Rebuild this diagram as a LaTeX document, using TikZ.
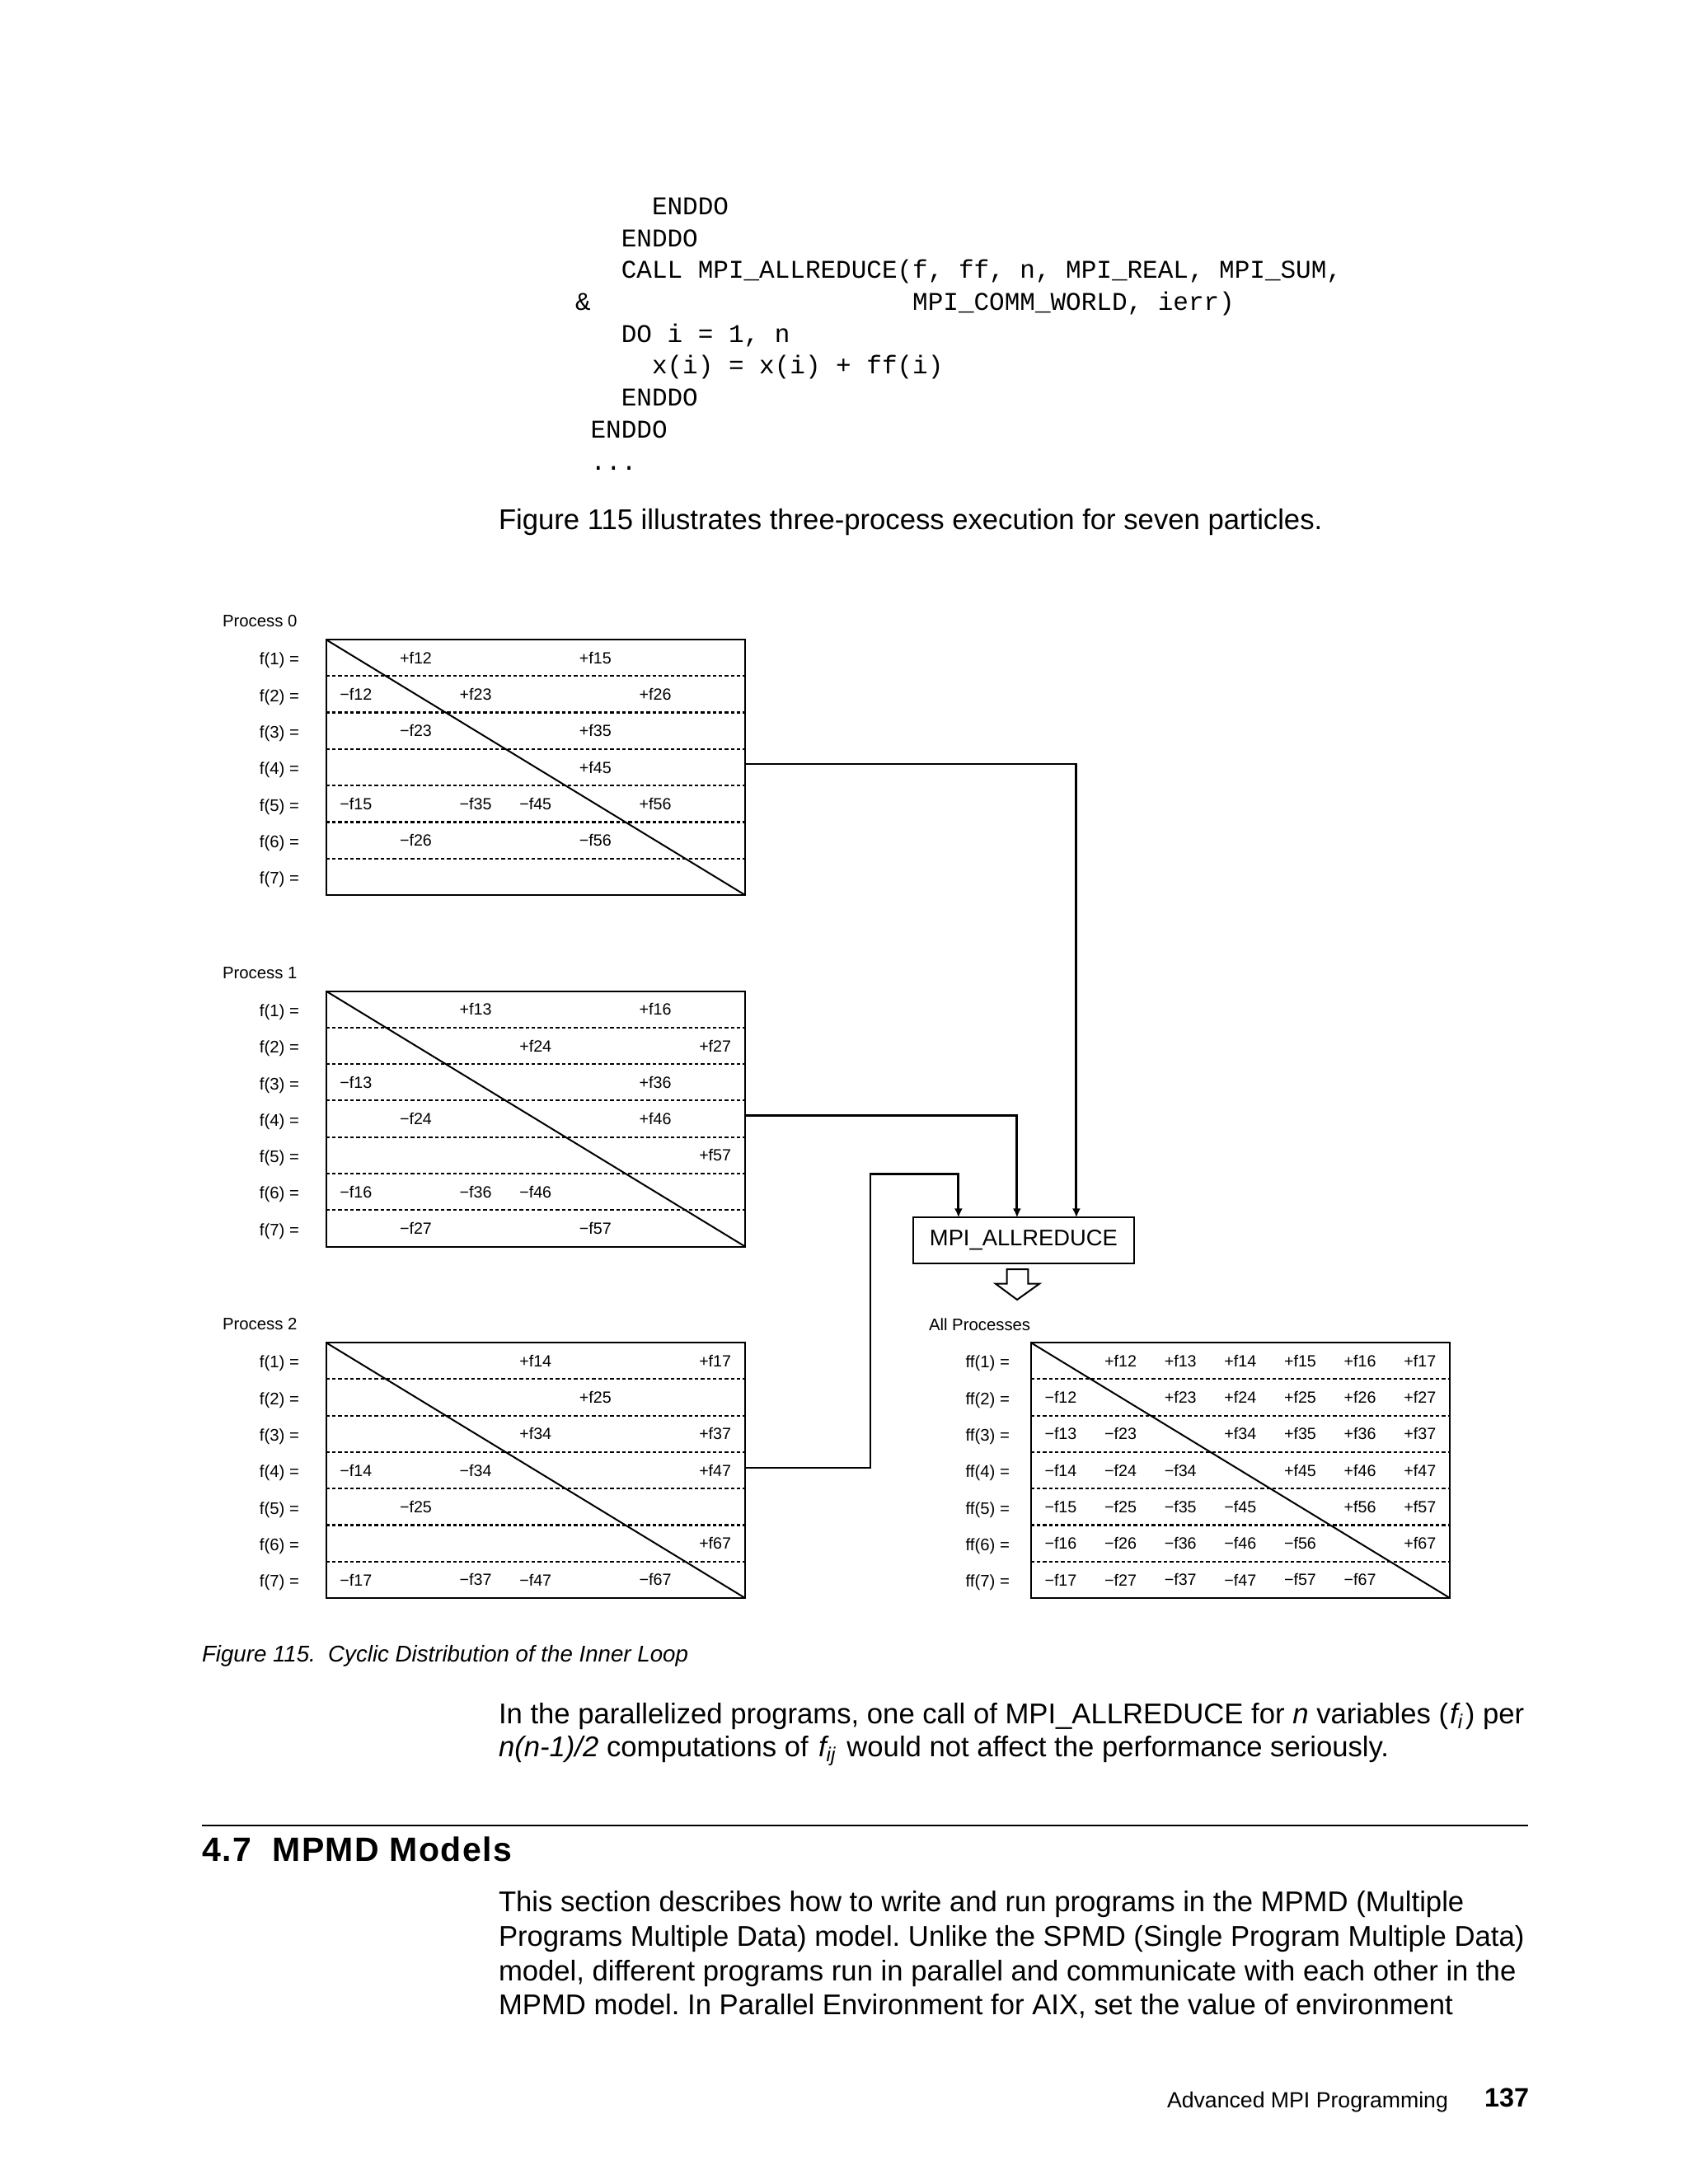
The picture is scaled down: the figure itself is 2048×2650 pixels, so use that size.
\documentclass[tikz,border=0pt]{standalone}
\usepackage{fontspec}
\setmainfont{Liberation Sans}
\setmonofont{Liberation Mono}
\newfontfamily\headfont[LetterSpace=3.5]{Liberation Sans}
\usetikzlibrary{arrows.meta,positioning,calc}

\begin{document}
\frenchspacing
\begin{tikzpicture}[x=0.3pt,y=-0.3pt,
    every node/.style={inner sep=0pt,outer sep=0pt},
    code/.style={anchor=mid west,yshift=-0.5pt,font=\fontsize{9.3}{11}\ttfamily},
    body/.style={anchor=mid west,yshift=-1pt,font=\fontsize{10.4}{12.5}\selectfont},
    lbl/.style={font=\fontsize{6.1}{7}\selectfont},
    entry/.style={font=\fontsize{5.9}{7}\selectfont},
    fbox/.style={draw,line width=0.6pt,minimum width=152.55pt,minimum height=93pt,anchor=north west},
    rowsep/.style={line width=0.65pt,dash pattern=on 1.3pt off 0.9pt},
    link/.style={line width=0.85pt,-{Latex[length=3.3pt,width=3pt]}}]
  \fill[white] (0,0) rectangle (2048,2650);
  \useasboundingbox (0,0) rectangle (2048,2650);

  \node[code] (code1) at (791,250) {ENDDO};
  \node[code] (code2) at (753.8,288.7) {ENDDO};
  \node[code] (code3) at (753.8,327.4) {CALL MPI\_ALLREDUCE(f, ff, n, MPI\_REAL, MPI\_SUM,};
  \node[code] (code4) at (698,366.1) {\&};
  \node[code] (code4b) at (1107.2,366.1) {MPI\_COMM\_WORLD, ierr)};
  \node[code] (code5) at (753.8,404.8) {DO i = 1, n};
  \node[code] (code6) at (791,443.5) {x(i) = x(i) + ff(i)};
  \node[code] (code7) at (753.8,482.2) {ENDDO};
  \node[code] (code8) at (716.6,520.9) {ENDDO};
  \node[code] (code9) at (716.6,559.6) {...};

  \node[body] (intro) at (605,630) {Figure 115 illustrates three-process execution for seven particles.};

  \foreach \p/\ytop/\pairs in {0/776/{1/2,1/5,2/3,2/6,3/5,4/5,5/6},
                               1/1202.5/{1/3,1/6,2/4,2/7,3/6,4/6,5/7},
                               2/1629/{1/4,1/7,2/5,3/4,3/7,4/7,6/7}} {
    \node[lbl,anchor=mid west] (title\p) at (270,{\ytop-24}) {Process \p};
    \node[fbox] (p\p) at (395.5,\ytop) {};
    \foreach \r in {1,...,6}
      \draw[rowsep] ($(p\p.north west)!\r/7!(p\p.south west)$) -- ($(p\p.north east)!\r/7!(p\p.south east)$);
    \draw[line width=0.6pt] (p\p.north west) -- (p\p.south east);
    \foreach \r in {1,...,7}
      \node[lbl,anchor=mid east] (f\p-\r) at (363,{\ytop+(\r-0.5)*44.29}) {f(\r) =};
    \foreach \i/\j in \pairs {
      \node[entry] (a\p-\i\j) at ({395.5+(\j-0.5)*72.64},{\ytop+(\i-0.5)*44.29}) {+f\i\j};
      \node[entry] (b\p-\i\j) at ({395.5+(\i-0.5)*72.64},{\ytop+(\j-0.5)*44.29}) {−f\i\j};
    }
  }

  \node[lbl,anchor=mid west] (alltitle) at (1127,1606) {All Processes};
  \node[fbox] (ff) at (1250.6,1629) {};
  \foreach \r in {1,...,6}
    \draw[rowsep] ($(ff.north west)!\r/7!(ff.south west)$) -- ($(ff.north east)!\r/7!(ff.south east)$);
  \draw[line width=0.6pt] (ff.north west) -- (ff.south east);
  \foreach \r in {1,...,7}
    \node[lbl,anchor=mid east] (g-\r) at (1225,{1629+(\r-0.5)*44.29}) {ff(\r) =};
  \foreach \i in {1,...,7}
    \foreach \j in {1,...,7} {
      \ifnum\i<\j
        \node[entry] (ga-\i\j) at ({1250.6+(\j-0.5)*72.64},{1629+(\i-0.5)*44.29}) {+f\i\j};
        \node[entry] (gb-\i\j) at ({1250.6+(\i-0.5)*72.64},{1629+(\j-0.5)*44.29}) {−f\i\j};
      \fi
    }

  \node[draw,line width=0.6pt,minimum width=80.5pt,minimum height=16.6pt,font=\fontsize{8.2}{10}\selectfont] (mpi) at (1241.9,1505) {MPI\_ALLREDUCE};
  \coordinate (in0) at ($(mpi.north)+(64,0)$);
  \coordinate (in1) at ($(mpi.north)+(-8,0)$);
  \coordinate (in2) at ($(mpi.north)+(-79,0)$);
  \coordinate (out0) at ($(p0.north east)+(0,151)$);
  \coordinate (out1) at ($(p1.north east)+(0,151)$);
  \coordinate (out2) at ($(p2.north east)+(0,152)$);
  \coordinate (bend2) at (1056,1424.7);
  \draw[link] (out0) -| (in0);
  \draw[link] (out1) -| (in1);
  \draw[link] (out2) -| (bend2) -| (in2);
  \draw[line width=0.6pt] (1221.7,1540) -- (1247.3,1540) -- (1247.3,1557.5) -- (1261.3,1557.5)
    -- (1234,1577) -- (1207.7,1557.5) -- (1221.7,1557.5) -- cycle;

  \node[anchor=mid west,yshift=-0.5pt,font=\fontsize{8.3}{10}\itshape] (cap) at (245,2006) {Figure 115.\ \ Cyclic Distribution of the Inner Loop};
  \node[body] (para1) at (605,2079) {In the parallelized programs, one call of MPI\_ALLREDUCE for \textit{n} variables (\kern0.6pt\textit{f\textsubscript{i}}\kern0.6pt) per};
  \node[body] (para2) at (605,2119) {\textit{n(n-1)/2} computations of \kern0.8pt\textit{f\textsubscript{ij}}\kern0.8pt{} would not affect the performance seriously.};

  \draw[line width=0.7pt] (245,2215) -- (1854,2215);
  \node[anchor=mid west,font=\fontsize{12.3}{14}\headfont\bfseries] (sec) at (245,2250) {4.7\ \ MPMD Models};
  \node[body] (text1) at (605,2307) {This section describes how to write and run programs in the MPMD (Multiple};
  \node[body] (text2) at (605,2349) {Programs Multiple Data) model. Unlike the SPMD (Single Program Multiple Data)};
  \node[body] (text3) at (605,2391) {model, different programs run in parallel and communicate with each other in the};
  \node[body] (text4) at (605,2432) {MPMD model. In Parallel Environment for AIX, set the value of environment};

  \node[anchor=mid west,yshift=-0.4pt,font=\fontsize{8}{10}\selectfont] (foot) at (1416,2547) {Advanced MPI Programming};
  \node[anchor=mid east,yshift=-0.8pt,font=\fontsize{9.7}{11}\bfseries] (page) at (1855,2545) {137};
\end{tikzpicture}
\end{document}
